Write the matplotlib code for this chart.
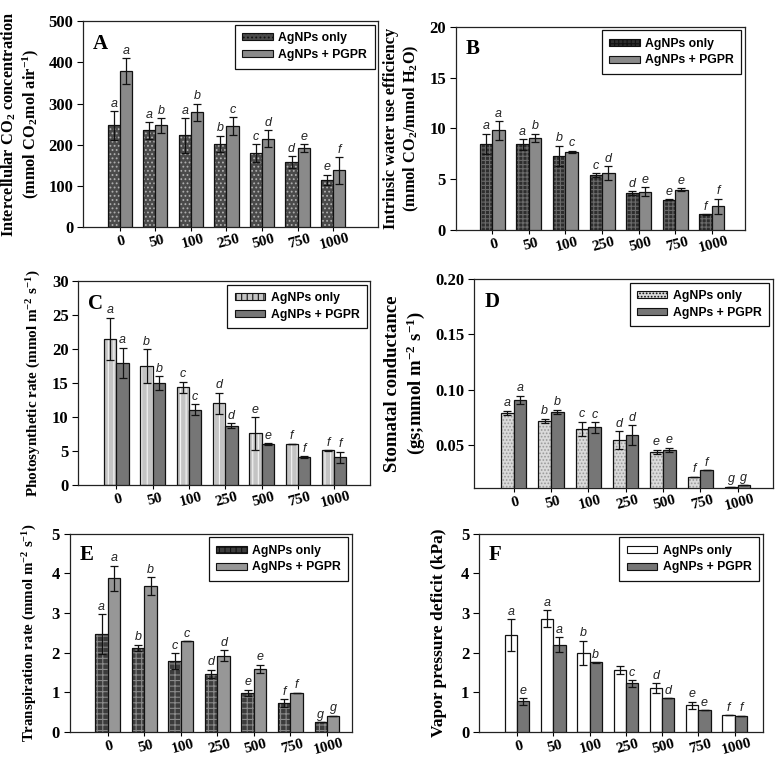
import numpy as np
import matplotlib
matplotlib.use("Agg")
import matplotlib.pyplot as plt
from matplotlib.patches import Patch

plt.rcParams['hatch.linewidth'] = 0.8
plt.rcParams['mathtext.fontset'] = 'custom'
plt.rcParams['mathtext.rm'] = 'Liberation Serif:bold'
plt.rcParams['mathtext.bf'] = 'Liberation Serif:bold'
plt.rcParams['mathtext.it'] = 'Liberation Serif:italic:bold'
plt.rcParams['mathtext.default'] = 'rm'

doses = ["0", "50", "100", "250", "500", "750", "1000"]
series_names = ["AgNPs only", "AgNPs + PGPR"]

# Panel A: Intercellular CO2
a_only = [247, 235, 223, 202, 180, 158, 115]
a_only_err = [34, 20, 42, 20, 22, 15, 13]
a_pgpr = [379, 247, 279, 245, 215, 192, 138]
a_pgpr_err = [31, 18, 21, 22, 20, 10, 32]
a_only_let = ["a", "a", "a", "b", "c", "d", "e"]
a_pgpr_let = ["a", "b", "b", "c", "d", "e", "f"]

# Panel B: Intrinsic WUE
b_only = [8.5, 8.43, 7.3, 5.4, 3.66, 3.0, 1.55]
b_only_err = [1.0, 0.5, 1.0, 0.2, 0.15, 0.05, 0.05]
b_pgpr = [9.8, 9.1, 7.7, 5.6, 3.8, 3.98, 2.35]
b_pgpr_err = [0.9, 0.4, 0.1, 0.7, 0.45, 0.17, 0.75]
b_only_let = ["a", "a", "b", "c", "d", "e", "f"]
b_pgpr_let = ["a", "b", "c", "d", "e", "e", "f"]

# Panel C: Photosynthetic rate
c_only = [21.5, 17.5, 14.4, 12.0, 7.6, 6.0, 5.1]
c_only_err = [3.1, 2.5, 0.8, 1.6, 2.4, 0.05, 0.05]
c_pgpr = [18.0, 15.0, 11.1, 8.7, 6.0, 4.06, 4.06]
c_pgpr_err = [2.2, 1.0, 0.8, 0.35, 0.1, 0.15, 0.8]
c_only_let = ["a", "b", "c", "d", "e", "f", "f"]
c_pgpr_let = ["a", "b", "c", "d", "e", "f", "f"]

# Panel D: Stomatal conductance
d_only = [0.079, 0.0717, 0.0645, 0.0545, 0.0437, 0.0213, 0.0122]
d_only_err = [0.002, 0.002, 0.0065, 0.008, 0.002, 0.0, 0.0]
d_pgpr = [0.0905, 0.0796, 0.0657, 0.0585, 0.0455, 0.0268, 0.0135]
d_pgpr_err = [0.004, 0.002, 0.005, 0.009, 0.002, 0.0, 0.0]
d_only_let = ["a", "b", "c", "d", "e", "f", "g"]
d_pgpr_let = ["a", "b", "c", "d", "e", "f", "g"]

# Panel E: Transpiration rate
e_only = [2.47, 2.12, 1.79, 1.47, 0.98, 0.72, 0.24]
e_only_err = [0.5, 0.08, 0.2, 0.1, 0.08, 0.1, 0.0]
e_pgpr = [3.87, 3.68, 2.28, 1.92, 1.59, 0.99, 0.41]
e_pgpr_err = [0.32, 0.22, 0.0, 0.14, 0.1, 0.0, 0.0]
e_only_let = ["a", "b", "c", "d", "e", "f", "g"]
e_pgpr_let = ["a", "b", "c", "d", "e", "f", "g"]

# Panel F: Vapor pressure deficit
f_only = [2.44, 2.85, 1.99, 1.57, 1.10, 0.67, 0.42]
f_only_err = [0.4, 0.21, 0.31, 0.1, 0.12, 0.09, 0.0]
f_pgpr = [0.77, 2.2, 1.75, 1.22, 0.85, 0.55, 0.41]
f_pgpr_err = [0.08, 0.18, 0.01, 0.09, 0.0, 0.0, 0.0]
f_only_let = ["a", "a", "b", "", "d", "e", "f"]
f_pgpr_let = ["e", "a", "b", "c", "d", "e", "f"]

SERIF = "Liberation Serif"
SANS = "Liberation Sans"

fig = plt.figure(figsize=(7.75, 7.6), dpi=100)

panels = [
    dict(pos=[0.107, 0.701, 0.381, 0.271], letter="A",
         only=a_only, oe=a_only_err, pg=a_pgpr, pe=a_pgpr_err,
         ol=a_only_let, pl=a_pgpr_let, ylim=(0, 500), yticks=[0, 100, 200, 300, 400, 500],
         fmt="{:.0f}", xlim=(-1.04, 7.27),
         ylabel="Intercellular CO$_2$ concentration\n(mmol CO$_2$mol air$^{-1}$)",
         ylfs=11.8, ylpad=5,
         ostyle=dict(fc="#4a4a4a", hc="#b0b0b0", hatch="...."), pcol="#8a8a8a"),
    dict(pos=[0.588, 0.697, 0.373, 0.268], letter="B",
         only=b_only, oe=b_only_err, pg=b_pgpr, pe=b_pgpr_err,
         ol=b_only_let, pl=b_pgpr_let, ylim=(0, 20), yticks=[0, 5, 10, 15, 20],
         fmt="{:.0f}", xlim=(-1.0, 6.9),
         ylabel="Intrinsic water use efficiency\n(mmol CO$_2$/mmol H$_2$O)",
         ylfs=11.8, ylpad=6,
         ostyle=dict(fc="#2e2e2e", hc="#6a6a6a", hatch="++++"), pcol="#8a8a8a"),
    dict(pos=[0.101, 0.362, 0.377, 0.268], letter="C",
         only=c_only, oe=c_only_err, pg=c_pgpr, pe=c_pgpr_err,
         ol=c_only_let, pl=c_pgpr_let, ylim=(0, 30), yticks=[0, 5, 10, 15, 20, 25, 30],
         fmt="{:.0f}", xlim=(-1.05, 7.0),
         ylabel="Photosynthetic rate (mmol m$^{-2}$ s$^{-1}$)",
         ylfs=10.9, ylpad=6,
         ostyle=dict(fc="#c4c4c4", hc="#f4f4f4", hatch="|||"), pcol="#767676"),
    dict(pos=[0.612, 0.358, 0.385, 0.275], letter="D",
         only=d_only, oe=d_only_err, pg=d_pgpr, pe=d_pgpr_err,
         ol=d_only_let, pl=d_pgpr_let, ylim=(0.011, 0.20), yticks=[0.05, 0.10, 0.15, 0.20],
         fmt="{:.2f}", xlim=(-1.05, 6.94),
         ylabel="Stomatal conductance\n(gs;mmol m$^{-2}$ s$^{-1}$)",
         ylfs=13.5, ylpad=6,
         ostyle=dict(fc="#dadada", hc="#9a9a9a", hatch="....."), pcol="#767676"),
    dict(pos=[0.090, 0.037, 0.364, 0.261], letter="E",
         only=e_only, oe=e_only_err, pg=e_pgpr, pe=e_pgpr_err,
         ol=e_only_let, pl=e_pgpr_let, ylim=(0, 5), yticks=[0, 1, 2, 3, 4, 5],
         fmt="{:.0f}", xlim=(-1.04, 6.68),
         ylabel="Transpiration rate (mmol m$^{-2}$ s$^{-1}$)",
         ylfs=10.7, ylpad=9,
         ostyle=dict(fc="#3c3c3c", hc="#8a8a8a", hatch="+++"), pcol="#979797"),
    dict(pos=[0.618, 0.037, 0.366, 0.261], letter="F",
         only=f_only, oe=f_only_err, pg=f_pgpr, pe=f_pgpr_err,
         ol=f_only_let, pl=f_pgpr_let, ylim=(0, 5), yticks=[0, 1, 2, 3, 4, 5],
         fmt="{:.0f}", xlim=(-1.05, 6.77),
         ylabel="Vapor pressure deficit (kPa)",
         ylfs=12.5, ylpad=10,
         ostyle=dict(fc="white", hc="white", hatch=None), pcol="#767676"),
]

w = 0.34
x = np.arange(len(doses))

for p in panels:
    ax = fig.add_axes(p["pos"])
    st = p["ostyle"]
    # AgNPs only bars (fill + hatch, then outline)
    ax.bar(x - w / 2, p["only"], width=w, color=st["fc"], edgecolor=st["hc"],
           hatch=st["hatch"], linewidth=0, zorder=2)
    ax.bar(x - w / 2, p["only"], width=w, fill=False, edgecolor="#111111",
           linewidth=0.9, zorder=3)
    ax.bar(x + w / 2, p["pg"], width=w, color=p["pcol"], edgecolor="#111111",
           linewidth=0.9, zorder=3)
    ax.errorbar(x - w / 2, p["only"], yerr=p["oe"], fmt="none", ecolor="#111111",
                elinewidth=0.9, capsize=3.2, capthick=0.9, zorder=4)
    ax.errorbar(x + w / 2, p["pg"], yerr=p["pe"], fmt="none", ecolor="#111111",
                elinewidth=0.9, capsize=3.2, capthick=0.9, zorder=4)
    for xi, v, e, l in zip(x - w / 2, p["only"], p["oe"], p["ol"]):
        if l:
            ax.annotate(l, (xi, v + e), xytext=(0, 1), textcoords="offset points",
                        ha="center", va="bottom", fontsize=9, style="italic",
                        family=SANS, color="#222222", zorder=5)
    for xi, v, e, l in zip(x + w / 2, p["pg"], p["pe"], p["pl"]):
        if l:
            ax.annotate(l, (xi, v + e), xytext=(0, 1), textcoords="offset points",
                        ha="center", va="bottom", fontsize=9, style="italic",
                        family=SANS, color="#222222", zorder=5)

    ax.set_xlim(*p["xlim"])
    ax.set_ylim(*p["ylim"])
    ax.set_xticks(x)
    ax.set_xticklabels(doses, rotation=15, ha="center", rotation_mode="anchor",
                       fontfamily=SERIF, fontweight="bold", fontsize=11)
    ax.set_yticks(p["yticks"])
    ax.set_yticklabels([p["fmt"].format(t) for t in p["yticks"]],
                       fontfamily=SERIF, fontweight="bold", fontsize=12)
    ax.tick_params(axis="x", length=3, width=0.8, pad=3, direction="out")
    ax.tick_params(axis="y", length=4, width=0.8, pad=3, direction="out")
    for sp in ax.spines.values():
        sp.set_linewidth(0.9)
        sp.set_color("#222222")
    ax.set_ylabel(p["ylabel"], fontfamily=SERIF, fontweight="bold",
                  fontsize=p["ylfs"], labelpad=p["ylpad"], linespacing=1.2)
    ax.text(0.034, 0.89, p["letter"], transform=ax.transAxes, fontfamily=SERIF,
            fontweight="bold", fontsize=15, va="center", ha="left")

    handles = [Patch(facecolor=st["fc"], edgecolor="#111111", hatch=st["hatch"], linewidth=0.8),
               Patch(facecolor=p["pcol"], edgecolor="#111111", linewidth=0.8)]
    leg = ax.legend(handles, series_names, loc="upper right", frameon=True,
                    fancybox=False, edgecolor="#111111", framealpha=1,
                    prop=dict(family=SANS, weight="bold", size=8.8),
                    handlelength=2.5, handleheight=0.5, handletextpad=0.45,
                    borderpad=0.6, labelspacing=0.4, borderaxespad=0.3)
    leg.get_frame().set_linewidth(0.9)

fig.savefig("out.png", dpi=100)
